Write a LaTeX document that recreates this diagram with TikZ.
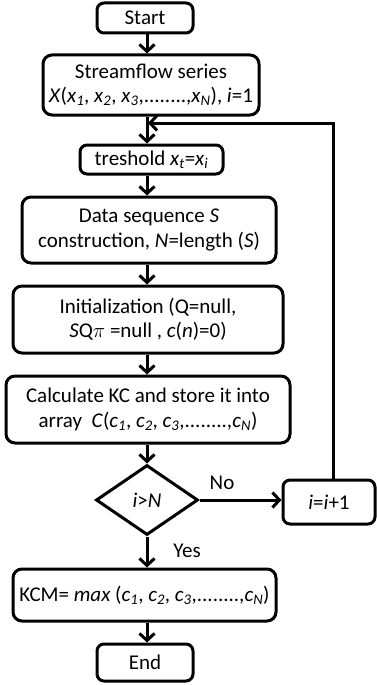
\documentclass[tikz,border=0pt]{standalone}
\usepackage{fontspec}
\setmainfont{Carlito}
\usetikzlibrary{arrows.meta,shapes.geometric}

\begin{document}
\begin{tikzpicture}[x=1pt,y=-1pt,
                    every node/.style={font=\fontsize{21}{24.5}\selectfont},
                    box/.style={draw,line width=3pt,rounded corners=9pt,align=center,inner sep=0pt},
                    dia/.style={draw,shape=diamond,line width=3pt,inner sep=0pt,
                                minimum width=102pt,minimum height=70pt},
                    flow/.style={line width=3pt,-{Straight Barb[length=7pt,width=15pt]}}]

\useasboundingbox (0,0) rectangle (376,685);
\coordinate (ax) at (147,0);
\coordinate (rline) at (333,0);
\coordinate (back) at (148,123);

\node[box,rounded corners=7pt,minimum width=96pt,minimum height=30pt] (start) at (145,18) {Start};
\node[box,minimum width=216pt,minimum height=60pt] (stream) at (151,85)
  {Streamflow series\\\textit{X}(\textit{x}\textsubscript{\textit{1}}, \textit{x}\textsubscript{\textit{2}}, \textit{x}\textsubscript{\textit{3}},........,\textit{x}\textsubscript{\textit{N}}), \textit{i}=1};
\node[box,rounded corners=7pt,minimum width=143pt,minimum height=29pt] (thr) at (151.5,159.5)
  {treshold \textit{x}\textsubscript{\textit{t}}=\textit{x}\textsubscript{\textit{i}}};
\node[box,minimum width=254pt,minimum height=66pt] (data) at (149,230)
  {Data sequence \textit{S}\\construction, \textit{N}=length (\textit{S})};
\node[box,minimum width=270pt,minimum height=67pt] (init) at (148,319.5)
  {Initialization (Q=null,\\\textit{S}Q$\pi$ =null , \textit{c}(\textit{n})=0)};
\node[box,minimum width=284pt,minimum height=67pt] (calc) at (148,409.5)
  {Calculate KC and store it into\\array~ \textit{C}(\textit{c}\textsubscript{\textit{1}}, \textit{c}\textsubscript{\textit{2}}, \textit{c}\textsubscript{\textit{3}},........,\textit{c}\textsubscript{\textit{N}})};
\node[dia] (test) at (147,500) {\textit{i}>\textit{N}};
\node[box,rounded corners=7pt,minimum width=92pt,minimum height=44pt] (inc) at (329,502)
  {\textit{i}=\textit{i}+1};
\node[box,minimum width=263pt,minimum height=52pt] (kcm) at (144.5,595)
  {KCM= \textit{max} (\textit{c}\textsubscript{\textit{1}}, \textit{c}\textsubscript{\textit{2}}, \textit{c}\textsubscript{\textit{3}},........,\textit{c}\textsubscript{\textit{N}})};
\node[box,rounded corners=7pt,minimum width=96pt,minimum height=37pt] (end) at (145,662.5) {End};

\node (no) at (222,483) {No};
\node (yes) at (187,551) {Yes};

\foreach \a/\b in {start/stream,stream/thr,thr/data,data/init,init/calc,calc/test,test/kcm,kcm/end}
  \draw[flow] (\a.south -| ax) -- (\b.north -| ax);
\draw[flow] (test.east) -- (inc.west |- test.east);
\draw[flow] (inc.north -| rline) |- (back);

\end{tikzpicture}
\end{document}
